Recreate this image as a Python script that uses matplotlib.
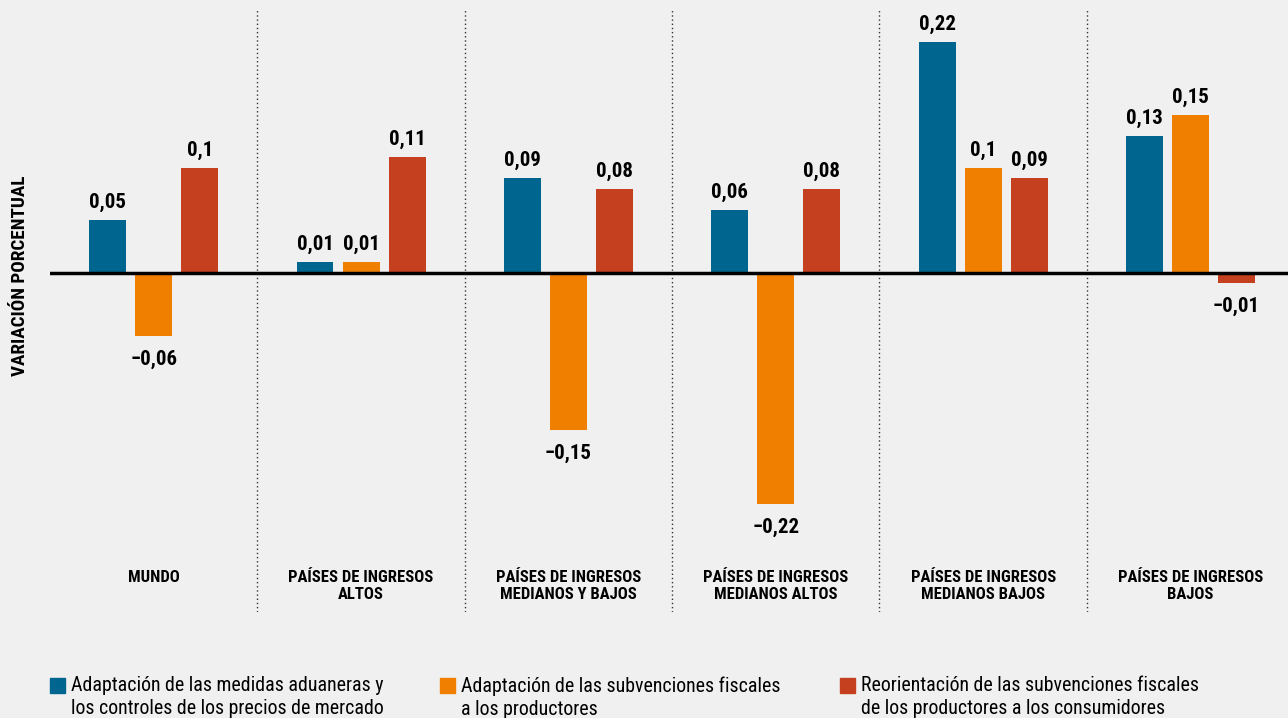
import numpy as np
import matplotlib.pyplot as plt

categories = [
    "MUNDO",
    "PAÍSES DE INGRESOS\nALTOS",
    "PAÍSES DE INGRESOS\nMEDIANOS Y BAJOS",
    "PAÍSES DE INGRESOS\nMEDIANOS ALTOS",
    "PAÍSES DE INGRESOS\nMEDIANOS BAJOS",
    "PAÍSES DE INGRESOS\nBAJOS",
]
series_names = [
    "Adaptación de las medidas aduaneras y\nlos controles de los precios de mercado",
    "Adaptación de las subvenciones fiscales\na los productores",
    "Reorientación de las subvenciones fiscales\nde los productores a los consumidores",
]
aduaneras = [0.05, 0.01, 0.09, 0.06, 0.22, 0.13]
productores = [-0.06, 0.01, -0.15, -0.22, 0.10, 0.15]
consumidores = [0.10, 0.11, 0.08, 0.08, 0.09, -0.01]

colors = ["#00668f", "#f07f00", "#c4401e"]
bg = "#f0f0f0"

plt.rcParams["font.family"] = ["Roboto Condensed", "Barlow Condensed", "Asap Condensed", "DejaVu Sans"]

fig = plt.figure(figsize=(12.88, 7.18), dpi=100, facecolor=bg)
ax = fig.add_axes([50 / 1288, 1 - 612 / 718, 1 - 50 / 1288, 602 / 718])
ax.set_facecolor(bg)

x = np.arange(len(categories))
step = 0.222
width = 0.178
for k, vals in enumerate([aduaneras, productores, consumidores]):
    pos = x + (k - 1) * step
    ax.bar(pos, vals, width=width, color=colors[k], label=series_names[k])
    for px, v in zip(pos, vals):
        txt = f"{abs(v):.2f}".rstrip("0").replace(".", ",")
        if v < 0:
            txt = "\u2212" + txt
            ax.annotate(txt, (px, v), xytext=(0, -10), textcoords="offset points",
                        ha="center", va="top", fontsize=15, fontweight="bold")
        else:
            ax.annotate(txt, (px, v), xytext=(0, 6), textcoords="offset points",
                        ha="center", va="bottom", fontsize=15, fontweight="bold")

ax.axhline(0, color="black", lw=2.5, zorder=3)
for b in x[:-1] + 0.5:
    ax.axvline(b, color="#333333", lw=1, ls=(0, (1, 2)))

ax.set_xlim(-0.5, 5.47)
ax.set_ylim(-0.323, 0.2505)
ax.set_xticks([])
ax.set_yticks([])
for s in ax.spines.values():
    s.set_visible(False)

for i, c in enumerate(categories):
    ax.text(i, -0.283, c, ha="center", va="top", fontsize=12, fontweight="bold",
            linespacing=1.2)

fig.text(20 / 1288, 1 - 276 / 718, "VARIACIÓN PORCENTUAL", rotation=90,
         ha="center", va="center", fontsize=13.8, fontweight="bold")

leg_x = [50, 440, 840]
for k in range(3):
    fig.patches.append(plt.Rectangle((leg_x[k] / 1288, 1 - 693 / 718), 15 / 1288, 15 / 718,
                                     transform=fig.transFigure, color=colors[k]))
    fig.text((leg_x[k] + 21) / 1288, 1 - 676 / 718, series_names[k], ha="left", va="top",
             fontsize=14.3, linespacing=1.3)

fig.savefig("out.png", dpi=100, facecolor=bg)
plt.close(fig)
